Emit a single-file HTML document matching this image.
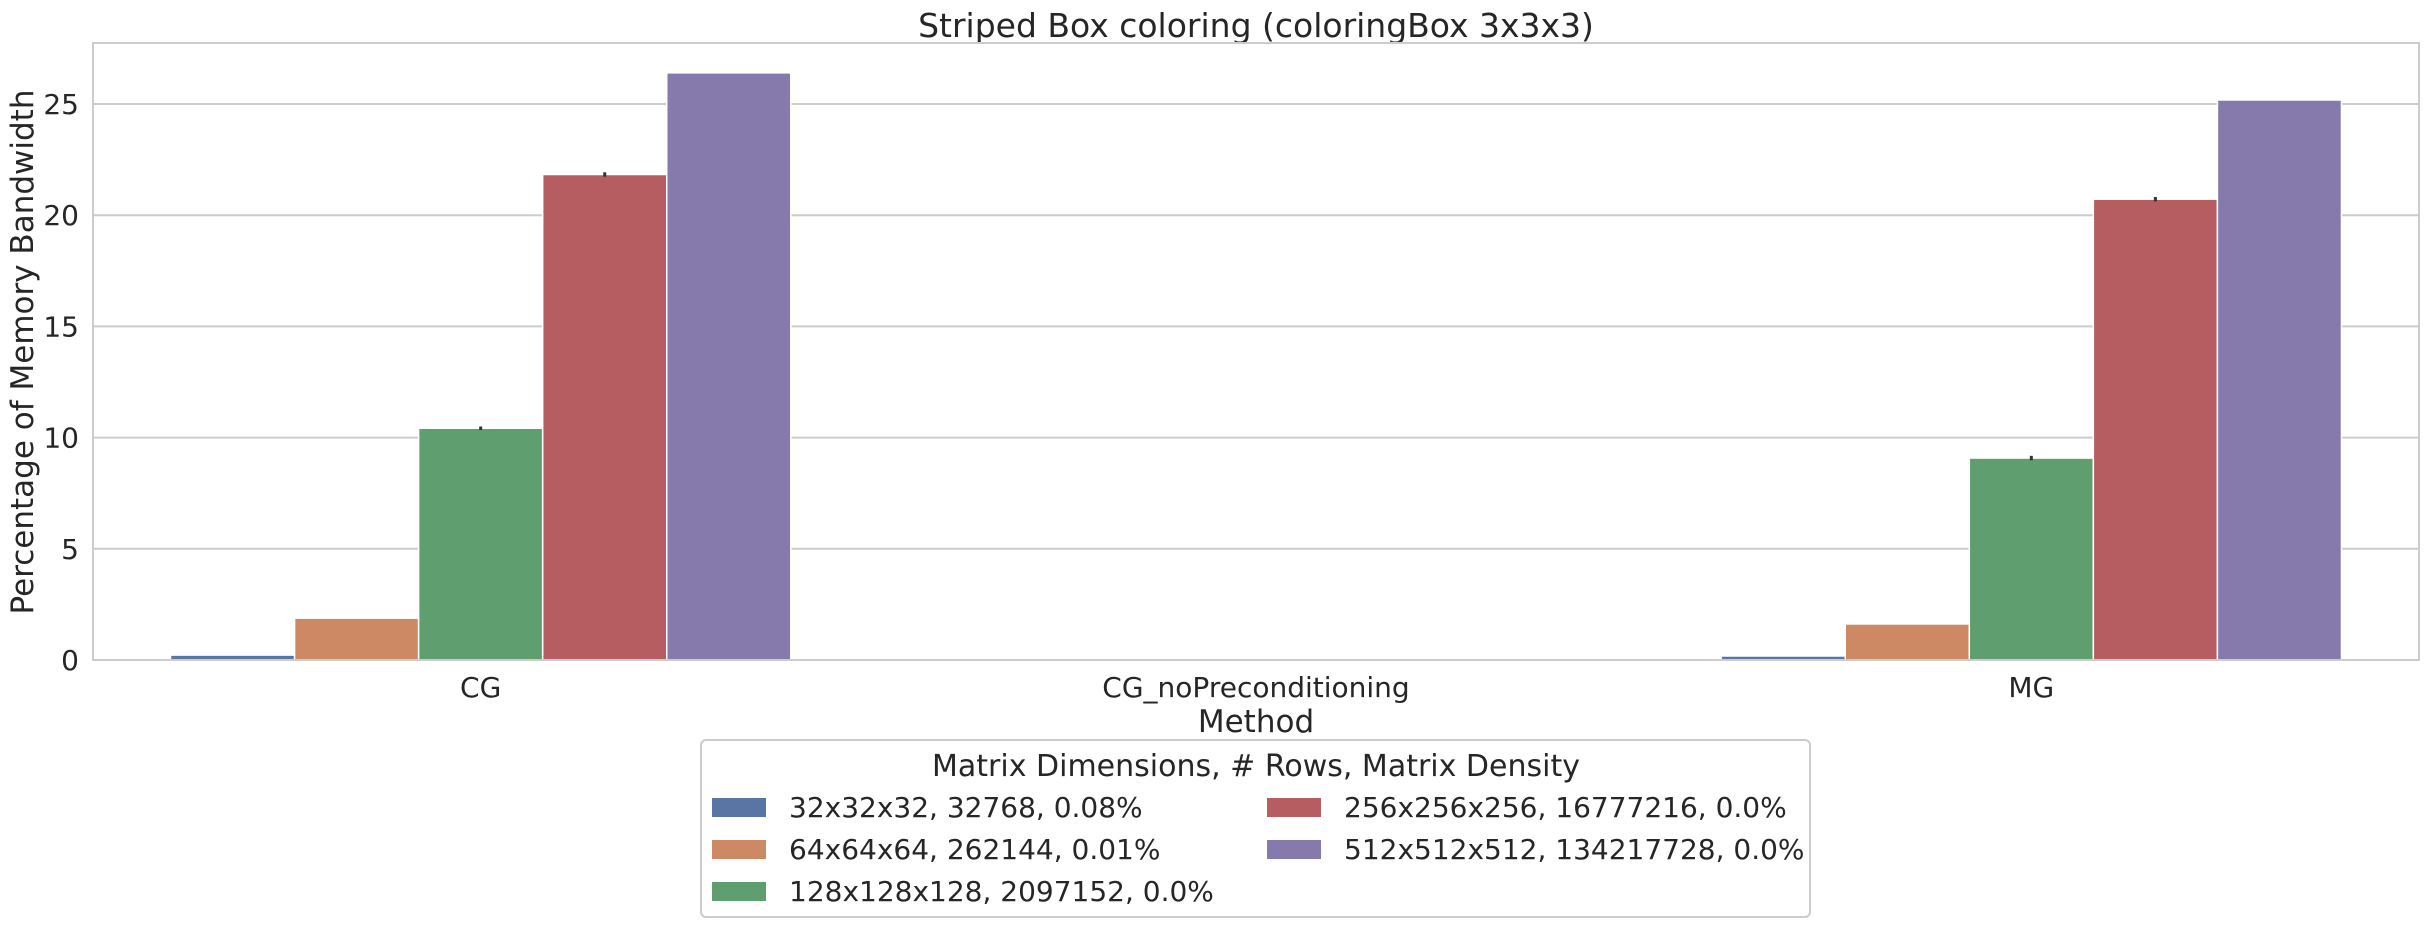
<!DOCTYPE html>
<html><head><meta charset="utf-8"><style>
body{margin:0;background:#fff;}
svg text{font-family:"DejaVu Sans","Liberation Sans",sans-serif;fill:#262626;}
</style></head><body>
<svg id="chart" width="2428" height="927" viewBox="0 0 2428 927">
<text x="1256" y="37" font-size="33" text-anchor="middle">Striped Box coloring (coloringBox 3x3x3)</text>
<g id="grid"></g>
<g id="bars"></g>
<rect x="93" y="43" width="2326" height="617" fill="none" stroke="#cccccc" stroke-width="2"/>
<g id="ticks"></g>
<text transform="translate(33,352) rotate(-90)" font-size="31" text-anchor="middle">Percentage of Memory Bandwidth</text>
<text x="1256" y="732" font-size="31" text-anchor="middle">Method</text>
<g>
<rect x="701" y="740" width="1109" height="177" rx="5" fill="#fff" stroke="#cccccc" stroke-width="2"/>
<text x="1256" y="776" font-size="30" text-anchor="middle">Matrix Dimensions, # Rows, Matrix Density</text>
<g id="legend-items"></g>
</g>
</svg>
<script>
const categories=["CG","CG_noPreconditioning","MG"];
const seriesNames=["32x32x32, 32768, 0.08%","64x64x64, 262144, 0.01%","128x128x128, 2097152, 0.0%","256x256x256, 16777216, 0.0%","512x512x512, 134217728, 0.0%"];
const colors=["#5875a4","#cc8963","#5f9e6e","#b55d60","#857aab"];
const s0=[0.22,0,0.18];
const s1=[1.88,0,1.62];
const s2=[10.42,0,9.08];
const s3=[21.83,0,20.72];
const s4=[26.4,0,25.18];
const err0=[0,0,0];
const err1=[0,0,0];
const err2=[0.08,0,0.1];
const err3=[0.1,0,0.1];
const err4=[0,0,0];
const yTicks=[0,5,10,15,20,25];

const series=[s0,s1,s2,s3,s4], errs=[err0,err1,err2,err3,err4];
const NS="http://www.w3.org/2000/svg";
const L=93,R=2419,B=660;
function y(v){return B-v*22.24;}
const band=(R-L)/categories.length;
function xc(i){return L+band*(i+0.5);}
const bw=band*0.8/series.length;
function mk(tag,attrs,parent){const e=document.createElementNS(NS,tag);for(const k in attrs)e.setAttribute(k,attrs[k]);parent.appendChild(e);return e;}
const grid=document.getElementById('grid'),ticks=document.getElementById('ticks'),bars=document.getElementById('bars'),leg=document.getElementById('legend-items');
yTicks.forEach(t=>{
  const l=mk('line',{x1:L,x2:R,y1:y(t),y2:y(t),stroke:'#cccccc','stroke-width':2},grid);
  
  
  const tx=mk('text',{x:L-14,y:y(t)+10,'font-size':28,'text-anchor':'end'},ticks);
  tx.textContent=t;
  
  
});
categories.forEach((c,i)=>{
  const tx=mk('text',{x:xc(i),y:697,'font-size':28,'text-anchor':'middle'},ticks);
  tx.textContent=c;
  
  
  series.forEach((s,j)=>{
    if(s[i]<=0)return;
    const x0=xc(i)-band*0.4+j*bw;
    const r=mk('rect',{x:x0,y:y(s[i]),width:bw,height:B-y(s[i]),fill:colors[j],stroke:'#fff','stroke-width':1.5},bars);
    
    
    if(errs[j][i]>0){
      const e=mk('line',{x1:x0+bw/2,x2:x0+bw/2,y1:y(s[i]+errs[j][i]),y2:y(s[i]-errs[j][i]),stroke:'#333','stroke-width':3},bars);
      
      
    }
  });
});
seriesNames.forEach((n,j)=>{
  const col=j<3?0:1,row=j<3?j:j-3;
  const px=col?1267:712, py=798+row*42;
  const p=mk('rect',{x:px,y:py,width:54,height:19,fill:colors[j]},leg);
  
  
  const t=mk('text',{x:px+77,y:py+19,'font-size':28},leg);
  t.textContent=n;
  
  
});
</script>
</body></html>
